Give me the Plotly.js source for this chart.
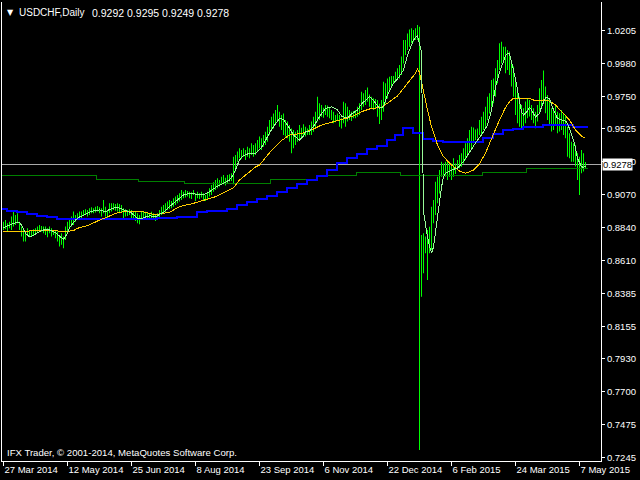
<!DOCTYPE html>
<html><head><meta charset="utf-8">
<script src="https://cdn.plot.ly/plotly-3.0.1.min.js"></script>
<style>
html,body{margin:0;padding:0;background:#000;}
#chart{width:640px;height:480px;}
#chart .scatterlayer .js-line, #chart .shapelayer path, #chart .layer-below path {shape-rendering:crispEdges;}
</style>
</head><body><div id="chart"></div>
<script>
// Daily bars, index 0 = 27 Mar 2014 ... 291 = 12 May 2015 (trading days)
const highs = [
0.8882,0.8894,0.8871,0.8882,0.8917,0.8952,0.8928,0.8940,0.8882,0.8848,
0.8824,0.8813,0.8836,0.8824,0.8824,0.8829,0.8836,0.8848,0.8859,0.8852,
0.8848,0.8848,0.8836,0.8848,0.8836,0.8824,0.8824,0.8813,0.8790,0.8801,
0.8778,0.8848,0.8882,0.8894,0.8917,0.8952,0.8928,0.8940,0.8952,0.8952,
0.8963,0.8968,0.8963,0.8975,0.8982,0.8975,0.8986,0.8991,0.8982,0.8975,
0.9032,0.8986,0.8963,0.9009,0.9009,0.9009,0.9005,0.9009,0.9005,0.8998,
0.8975,0.8968,0.8963,0.8968,
0.8963,0.8951,0.8951,0.8940,0.8928,0.8951,0.8956,0.8951,0.8947,0.8940,
0.8951,0.8940,0.8933,0.8940,0.8963,0.8986,0.8998,0.9009,0.9021,0.9032,
0.9025,0.9044,0.9056,0.9067,0.9079,0.9102,0.9090,0.9102,0.9095,0.9090,
0.9086,0.9102,0.9079,0.9090,0.9079,0.9090,0.9079,0.9067,0.9090,0.9113,
0.9136,0.9155,0.9171,0.9183,0.9171,0.9194,0.9206,0.9187,0.9206,0.9211,
0.9217,0.9333,0.9345,0.9368,0.9391,0.9379,0.9391,0.9379,0.9402,0.9391,
0.9426,0.9414,0.9426,
0.9448,0.9472,0.9460,0.9483,0.9506,0.9541,0.9587,0.9610,0.9633,0.9657,
0.9691,0.9645,0.9622,0.9633,0.9587,0.9576,0.9552,0.9529,0.9518,0.9506,
0.9518,0.9552,0.9534,0.9557,0.9541,0.9529,0.9552,0.9576,0.9610,0.9645,
0.9749,0.9703,0.9691,0.9673,0.9691,0.9687,0.9673,0.9657,0.9645,0.9622,
0.9633,0.9622,0.9599,0.9714,0.9703,0.9680,0.9657,0.9645,0.9650,0.9657,
0.9680,0.9703,0.9784,0.9772,0.9795,0.9812,0.9765,0.9749,0.9738,0.9733,
0.9726,0.9700,
0.9726,0.9853,0.9842,0.9876,0.9888,0.9892,0.9892,0.9922,0.9946,0.9969,
1.0027,1.0142,1.0142,1.0188,1.0216,1.0223,1.0212,1.0223,1.0246,1.0235,
0.8789,0.8801,0.8778,0.8824,0.8847,0.8986,0.9032,0.9159,0.9194,0.9240,
0.9298,0.9286,0.9298,0.9310,0.9298,0.9286,0.9321,0.9286,0.9310,0.9344,
0.9356,0.9391,0.9425,0.9460,0.9518,0.9541,0.9536,0.9522,0.9529,0.9587,
0.9610,0.9645,0.9680,0.9749,0.9772,0.9865,0.9876,0.9946,1.0003,1.0119,
1.0131,1.0096,
1.0096,1.0073,1.0062,1.0004,0.9958,0.9865,0.9807,0.9749,0.9692,0.9668,
0.9715,0.9738,0.9726,0.9692,0.9668,0.9645,0.9692,0.9807,0.9865,0.9930,
0.9819,0.9761,0.9726,0.9668,0.9657,0.9692,0.9645,0.9634,0.9657,0.9634,
0.9622,0.9541,0.9495,0.9437,0.9426,0.9414,0.9356,0.9333,0.9379,0.9356,
0.9295];
const lows = [
0.8824,0.8829,0.8813,0.8836,0.8824,0.8848,0.8859,0.8871,0.8824,0.8778,
0.8744,0.8744,0.8790,0.8774,0.8783,0.8790,0.8801,0.8806,0.8813,0.8813,
0.8801,0.8790,0.8774,0.8801,0.8778,0.8790,0.8767,0.8744,0.8709,0.8721,
0.8697,0.8755,0.8801,0.8836,0.8848,0.8859,0.8882,0.8894,0.8898,0.8905,
0.8921,0.8928,0.8917,0.8928,0.8940,0.8940,0.8945,0.8952,0.8940,0.8917,
0.8940,0.8917,0.8905,0.8940,0.8952,0.8963,0.8958,0.8952,0.8940,0.8945,
0.8905,0.8917,0.8921,0.8928,
0.8905,0.8901,0.8887,0.8870,0.8864,0.8894,0.8910,0.8905,0.8901,0.8894,
0.8905,0.8901,0.8887,0.8894,0.8910,0.8928,0.8940,0.8951,0.8963,0.8970,
0.8975,0.8986,0.8998,0.9009,0.9021,0.9032,0.9044,0.9049,0.9056,0.9044,
0.9039,0.9067,0.9025,0.9044,0.9039,0.9049,0.9032,0.9025,0.9039,0.9056,
0.9067,0.9090,0.9102,0.9113,0.9125,0.9136,0.9141,0.9132,0.9148,0.9160,
0.9164,0.9141,0.9229,0.9298,0.9322,0.9317,0.9333,0.9310,0.9333,0.9322,
0.9345,0.9333,0.9345,
0.9367,0.9391,0.9379,0.9402,0.9414,0.9437,0.9483,0.9518,0.9529,0.9552,
0.9576,0.9541,0.9518,0.9483,0.9472,0.9460,0.9437,0.9356,0.9391,0.9414,
0.9437,0.9448,0.9460,0.9483,0.9472,0.9483,0.9483,0.9483,0.9506,0.9529,
0.9576,0.9587,0.9610,0.9603,0.9622,0.9610,0.9599,0.9587,0.9564,0.9571,
0.9580,0.9541,0.9529,0.9564,0.9541,0.9576,0.9587,0.9580,0.9599,0.9599,
0.9610,0.9622,0.9657,0.9680,0.9691,0.9714,0.9680,0.9664,0.9657,0.9668,
0.9610,0.9560,
0.9587,0.9645,0.9703,0.9737,0.9784,0.9818,0.9842,0.9853,0.9865,0.9876,
0.9899,0.9980,1.0038,1.0073,1.0096,1.0119,1.0131,1.0142,1.0142,0.7297,
0.8361,0.8523,0.8662,0.8477,0.8662,0.8685,0.8870,0.8928,0.9009,0.9078,
0.9194,0.9206,0.9194,0.9171,0.9194,0.9171,0.9194,0.9212,0.9240,0.9252,
0.9263,0.9286,0.9310,0.9333,0.9367,0.9391,0.9425,0.9448,0.9460,0.9483,
0.9483,0.9518,0.9541,0.9587,0.9633,0.9680,0.9703,0.9749,0.9842,0.9934,
0.9980,1.0003,
0.9911,0.9934,0.9900,0.9819,0.9749,0.9622,0.9564,0.9541,0.9518,0.9530,
0.9564,0.9599,0.9611,0.9587,0.9564,0.9530,0.9576,0.9634,0.9668,0.9703,
0.9634,0.9587,0.9553,0.9507,0.9518,0.9553,0.9495,0.9507,0.9518,0.9483,
0.9460,0.9333,0.9322,0.9298,0.9298,0.9264,0.9171,0.9067,0.9217,0.9229,
0.9249];

// fast moving average (pale green), read at bar indices
const fastIdx = [0,3,6,8,9,11,13,15,17,20,23,26,28,30,32,33,36,38,42,45,48,51,53,56,58,61,64,67,69,71,73,76,80,83,86,90,93,96,100,103,106,110,113,115,118,120,123,126,127,129,132,134,138,140,143,145,148,150,151,153,156,158,161,164,167,169,172,174,177,179,183,185,188,190,192,193,195,197,200,202,205,207,208,209,210,211,212,213,214,215,216,217,218,219,220,221,224,227,230,233,236,239,242,244,246,248,250,251,252,253,254,255,256,257,258,259,260,262,263,264,266,268,269,270,271,273,275,277,279,281,282,284,285,286,287,289,290,291];
const fastVal = [0.8841,0.8855,0.8874,0.8876,0.8858,0.8801,0.8777,0.8786,0.8805,0.8824,0.8824,0.8805,0.8782,0.8759,0.8801,0.8838,0.8893,0.8914,0.8940,0.8958,0.8963,0.8951,0.8966,0.8981,0.8976,0.8958,0.8942,0.8904,0.8904,0.8914,0.8923,0.8916,0.8947,0.8986,0.9022,0.9067,0.9078,0.9072,0.9067,0.9090,0.9119,0.9148,0.9171,0.9209,0.9310,0.9341,0.9356,0.9356,0.9367,0.9396,0.9471,0.9521,0.9599,0.9591,0.9530,0.9483,0.9448,0.9476,0.9506,0.9506,0.9564,0.9611,0.9668,0.9679,0.9657,0.9615,0.9599,0.9629,0.9657,0.9698,0.9749,0.9723,0.9668,0.9679,0.9761,0.9788,0.9842,0.9872,0.9934,1.0038,1.0142,1.0174,1.0108,1.0059,0.8949,0.8852,0.8775,0.8713,0.8664,0.8706,0.8810,0.8935,0.9046,0.9122,0.9192,0.9217,0.9240,0.9254,0.9298,0.9365,0.9428,0.9483,0.9552,0.9657,0.9816,0.9920,1.0004,1.0031,1.0050,1.0045,0.9990,0.9934,0.9872,0.9795,0.9705,0.9643,0.9622,0.9650,0.9675,0.9657,0.9608,0.9634,0.9677,0.9712,0.9743,0.9738,0.9657,0.9598,0.9587,0.9580,0.9564,0.9495,0.9448,0.9393,0.9321,0.9263,0.9259,0.9268];

// slow moving average (gold)
const slowIdx = [0,10,18,26,30,32,35,37,42,47,52,57,60,65,70,75,78,83,88,95,101,106,111,115,118,121,126,128,134,139,143,149,154,159,164,169,174,179,184,189,192,197,202,206,207,208,209,210,212,214,217,220,224,228,231,235,238,241,245,248,251,253,255,259,263,265,268,270,273,276,279,283,286,289,291];
const slowVal = [0.8814,0.8817,0.8820,0.8820,0.8810,0.8813,0.8820,0.8836,0.8854,0.8886,0.8916,0.8944,0.8951,0.8951,0.8949,0.8933,0.8935,0.8947,0.8986,0.9009,0.9032,0.9055,0.9090,0.9117,0.9171,0.9205,0.9261,0.9275,0.9376,0.9445,0.9483,0.9494,0.9518,0.9552,0.9571,0.9587,0.9610,0.9645,0.9668,0.9674,0.9702,0.9754,0.9842,0.9911,0.9939,0.9920,0.9851,0.9782,0.9657,0.9541,0.9414,0.9333,0.9275,0.9233,0.9217,0.9240,0.9282,0.9358,0.9495,0.9587,0.9674,0.9714,0.9738,0.9738,0.9738,0.9726,0.9721,0.9726,0.9719,0.9691,0.9645,0.9587,0.9518,0.9476,0.9460];

// weekly average (blue step line): first bar of each level and its value
const blueStart = [-1,2,7,12,17,22,27,77,87,97,102,112,117,122,127,132,137,142,147,152,157,162,167,172,177,182,187,192,196,200,205,210,215,220,240,245,250,255,260,270,285];
const blueVal = [0.8967,0.8956,0.8947,0.8935,0.8921,0.8912,0.8900,0.8905,0.8916,0.8947,0.8956,0.8970,0.8997,0.9016,0.9037,0.9058,0.9086,0.9114,0.9142,0.9170,0.9198,0.9240,0.9289,0.9323,0.9351,0.9386,0.9407,0.9448,0.9483,0.9532,0.9497,0.9455,0.9444,0.9435,0.9462,0.9490,0.9518,0.9527,0.9539,0.9555,0.9537];

// monthly average (dark green step line)
const greenStart = [-1,47,68,91,134,157,177,199,240,262];
const greenVal = [0.9205,0.9171,0.9159,0.9150,0.9171,0.9199,0.9224,0.9199,0.9226,0.9254];
const lineEnd = 292;

const symbolText = 'USDCHF,Daily';
const lastQuote = [0.9292, 0.9295, 0.9249, 0.9278]; // open, high, low, close
const footerText = 'IFX Trader, © 2001-2014, MetaQuotes Software Corp.';
const dateTickIdx = [0,32,64,96,128,160,192,224,256,288];
const dateTickText = ['27 Mar 2014','12 May 2014','25 Jun 2014','8 Aug 2014','23 Sep 2014','6 Nov 2014','22 Dec 2014','6 Feb 2015','24 Mar 2015','7 May 2015'];
const priceTicks = [1.0205,0.9980,0.9750,0.9525,0.9300,0.9070,0.8840,0.8610,0.8385,0.8155,0.7930,0.7700,0.7475,0.7245];

const barIdx = highs.map((h, i) => i);
const barSpan = highs.map((h, i) => h - lows[i]);

function stepLine(starts, vals, end) {
  const x = [], y = [];
  starts.forEach((s, k) => { x.push(s - 0.5); y.push(vals[k]); });
  x.push(end); y.push(vals[vals.length - 1]);
  return {x, y};
}
const blue = stepLine(blueStart, blueVal, lineEnd);
const green = stepLine(greenStart, greenVal, lineEnd);

const FONT = 'Liberation Sans, Arial, sans-serif';
const traces = [
  {type:'scatter', mode:'lines', x:green.x, y:green.y, line:{color:'#008000', width:1, shape:'hv'}, hoverinfo:'skip'},
  {type:'scatter', mode:'lines', x:blue.x, y:blue.y, line:{color:'#0000ff', width:2, shape:'hv'}, hoverinfo:'skip'},
  {type:'bar', x:barIdx, y:barSpan, base:lows, width:0.5, marker:{color:'#00ff00', line:{width:0}}, hoverinfo:'skip'},
  {type:'scatter', mode:'lines', x:slowIdx, y:slowVal, line:{color:'#ffcc00', width:1}, hoverinfo:'skip'},
  {type:'scatter', mode:'lines', x:fastIdx, y:fastVal, line:{color:'#98fb98', width:1}, hoverinfo:'skip'}
];

const layout = {
  width:640, height:480,
  margin:{l:2, r:39, t:2, b:19},
  paper_bgcolor:'#000', plot_bgcolor:'#000',
  showlegend:false,
  font:{family:FONT, size:10, color:'#ffffff'},
  xaxis:{range:[-0.75, 298.75], showgrid:false, zeroline:false, showline:true, linecolor:'#ffffff', linewidth:1,
    ticks:'outside', ticklen:4, tickcolor:'#ffffff', tickvals:dateTickIdx, ticktext:dateTickText, tickangle:0,
    ticklabelposition:'outside right', tickfont:{family:FONT, size:9.5, color:'#ffffff'}},
  yaxis:{range:[0.7221, 1.0406], side:'right', showgrid:false, zeroline:false, showline:true, mirror:true,
    linecolor:'#ffffff', linewidth:1, ticks:'outside', ticklen:3, tickcolor:'#ffffff',
    tickvals:priceTicks, ticktext:priceTicks.map(v => v.toFixed(4)), tickfont:{family:FONT, size:9.5, color:'#ffffff'}},
  shapes:[{type:'line', xref:'paper', x0:0, x1:1, yref:'y', y0:lastQuote[3], y1:lastQuote[3], line:{color:'#a9a9a9', width:1}, layer:'below'}],
  annotations:[
    {xref:'paper', yref:'paper', x:0, y:1, xanchor:'left', yanchor:'top', xshift:3, yshift:-4, showarrow:false,
      text:'▼', font:{family:'DejaVu Sans', size:8, color:'#ffffff'}},
    {xref:'paper', yref:'paper', x:0, y:1, xanchor:'left', yanchor:'top', xshift:15, yshift:-3, showarrow:false,
      text:symbolText, font:{family:FONT, size:10, color:'#ffffff'}},
    {xref:'paper', yref:'paper', x:0, y:1, xanchor:'left', yanchor:'top', xshift:88, yshift:-3, showarrow:false,
      text:lastQuote.map(v => v.toFixed(4)).join(' '), font:{family:FONT, size:10.5, color:'#ffffff'}},
    {xref:'paper', yref:'paper', x:0, y:0, xanchor:'left', yanchor:'bottom', xshift:3, yshift:1, showarrow:false,
      text:footerText, font:{family:FONT, size:9.6, color:'#ffffff'}},
    {xref:'paper', yref:'y', x:1, y:lastQuote[3], xanchor:'left', yanchor:'middle', xshift:1, showarrow:false,
      text:lastQuote[3].toFixed(4), bgcolor:'#ffffff', borderpad:0, font:{family:FONT, size:9.5, color:'#000000'}}
  ]
};

Plotly.newPlot('chart', traces, layout, {staticPlot:true, displayModeBar:false});
</script>
</body></html>
